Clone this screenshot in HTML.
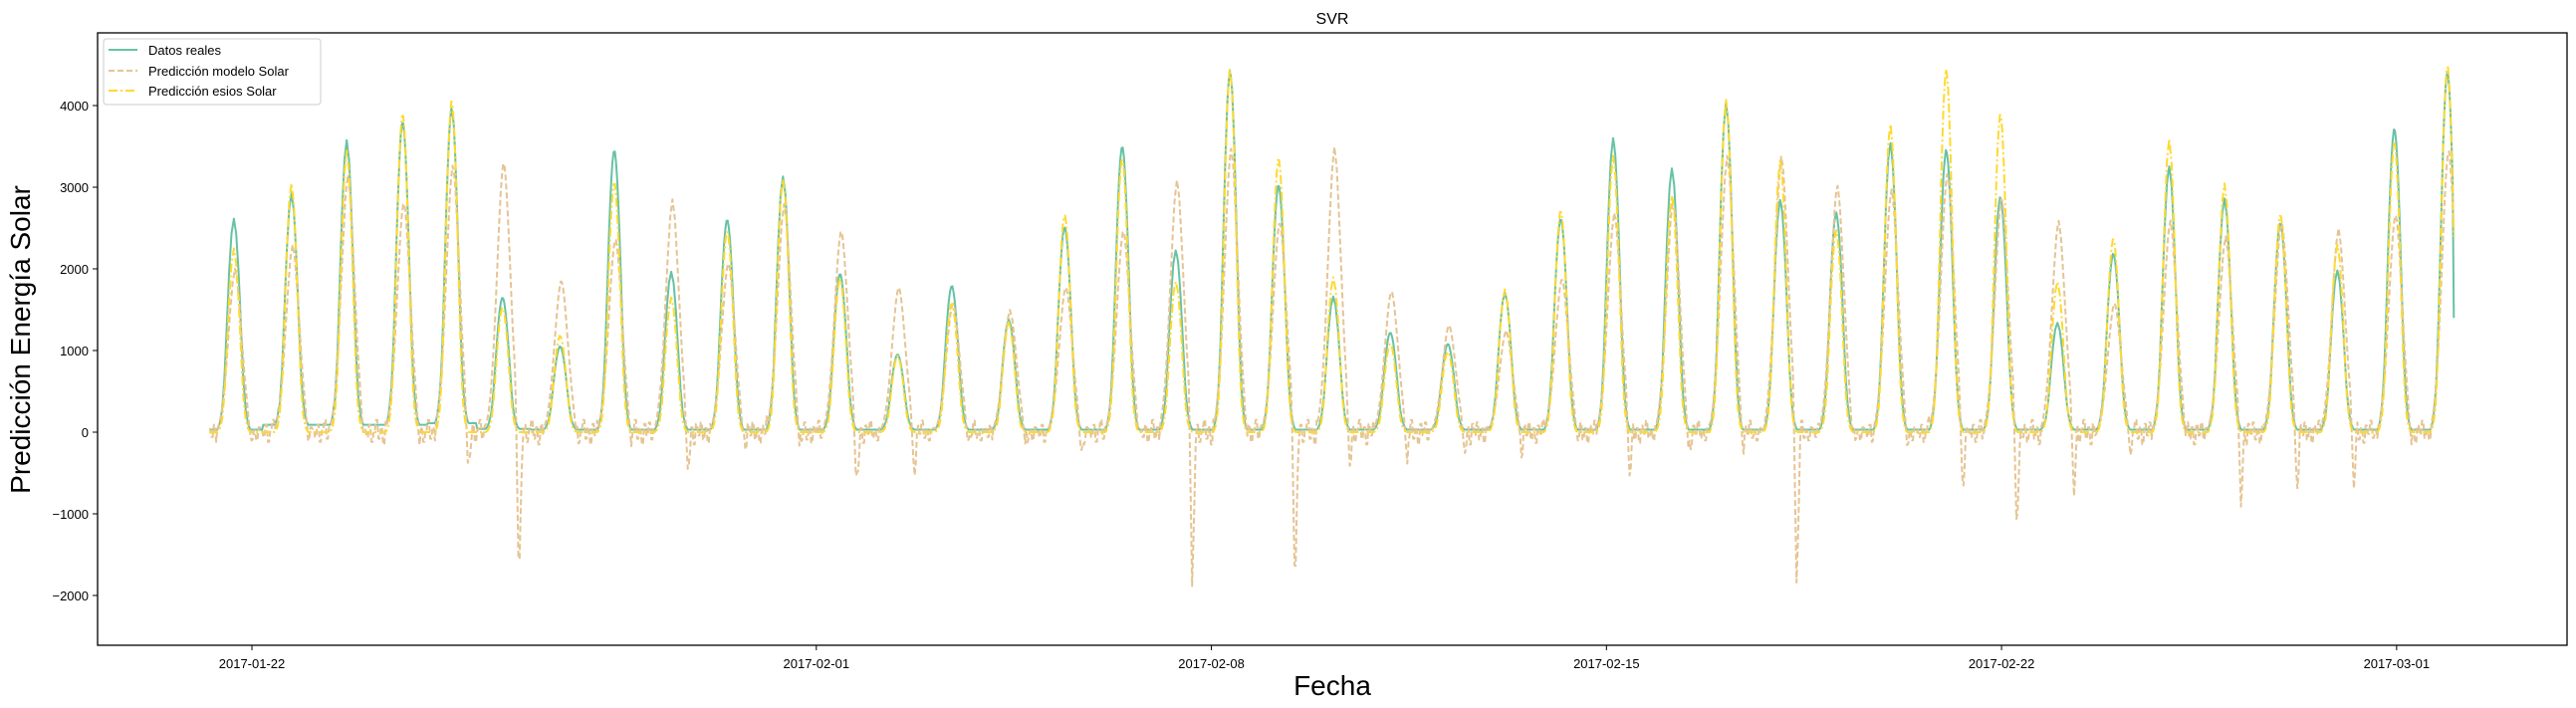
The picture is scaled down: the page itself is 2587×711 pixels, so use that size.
<!DOCTYPE html>
<html><head><meta charset="utf-8">
<style>
html,body{margin:0;padding:0;background:#fff;}
svg{display:block;font-family:"Liberation Sans","DejaVu Sans",sans-serif;}
</style></head>
<body>
<svg id="chart" width="2587" height="711" viewBox="0 0 2587 711" xmlns="http://www.w3.org/2000/svg">
<rect x="0" y="0" width="2587" height="711" fill="#fff"/>
<text x="1338" y="24" font-size="16" text-anchor="middle">SVR</text>
<g id="plot"></g>
<g id="axes"></g>
<text transform="translate(30,341) rotate(-90)" font-size="28" text-anchor="middle">Predicción Energía Solar</text>
<text x="1338" y="698" font-size="28" text-anchor="middle">Fecha</text>
<g>
<rect x="104" y="39" width="218" height="66" rx="3" fill="#fff" fill-opacity="0.8" stroke="#ccc" stroke-width="1"/>
<g><line x1="109" y1="50" x2="138" y2="50" stroke="#66c2a5" stroke-width="2"/><text x="149" y="55" font-size="13">Datos reales</text></g>
<g><line x1="109" y1="71" x2="138" y2="71" stroke="#e5c494" stroke-width="2" stroke-dasharray="6,3"/><text x="149" y="76" font-size="13">Predicción modelo Solar</text></g>
<g><line x1="109" y1="91" x2="138" y2="91" stroke="#ffd92f" stroke-width="2" stroke-dasharray="9,3,2,3"/><text x="149" y="96" font-size="13">Predicción esios Solar</text></g>
</g>
</svg>
<script>
// ---- data (peak day = days since 2017-01-22 00:00) ----
const peakDay = [-0.32,0.70,1.68,2.67,3.54,4.44,5.46,6.42,7.43,8.42,9.41,10.42,11.44,12.40,13.41,14.40,15.42,16.37,17.33,18.19,19.16,20.17,21.19,22.20,23.19,24.12,25.16,26.12,27.08,28.07,29.03,30.02,30.98,31.99,32.98,33.97,34.95,35.94,36.95,37.96,38.90];
const realPeak = [2600,2880,3530,3800,3950,1650,1050,3480,1950,2620,3120,1950,950,1800,1370,2530,3530,2220,4450,3050,1650,1220,1080,1700,2630,3600,3220,4030,2850,2700,3550,3480,2900,1330,2200,3250,2850,2580,1970,3750,4450];
const modelPeak = [2000,2300,3150,2850,3300,3350,1880,2400,2850,2100,2800,2500,1800,1600,1500,1800,2500,3100,3500,2600,3500,1750,1330,1250,1900,2700,2850,3400,3400,3050,3000,3200,2900,2600,1600,2600,2400,2600,2500,2700,3500];
const esiosPeak = [2250,3050,3450,3950,4100,1550,1200,3100,1650,2500,3100,1900,950,1600,1350,2700,3400,1850,4480,3400,1900,1100,1000,1750,2750,3400,2900,4100,3350,2500,3800,4500,3950,1850,2400,3600,3050,2700,2300,3600,4550];
const realBase = [30,90,90,90,110,40,30,30,30,30,30,30,30,30,30,30,30,30,30,30,30,30,30,30,30,30,30,30,30,30,30,30,30,30,30,30,30,30,30,30,30];
const modelDip = [-170,-150,-220,-300,-700,-2150,-150,-220,-650,-250,-370,-900,-600,-300,-250,-400,-200,-2200,-200,-2200,-670,-430,-300,-250,-200,-760,-400,-400,-2250,-300,-300,-920,-1500,-930,-300,-250,-1010,-820,-830,-250,-100];
const nightNoise = [40,-60,90,-120,30,150,-80,60,-150,100,-40,120,-90,50,-130,80,-20,140,-70,20,-100,60];
const yTicks = [-2000,-1000,0,1000,2000,3000,4000];
const xTickLabels = ["2017-01-22","2017-02-01","2017-02-08","2017-02-15","2017-02-22","2017-03-01"];
const xTickDays = [0,10,17,24,31,38];
// profiles (hour offset from peak)
const profReal = [0,0.03,0.1,0.25,0.5,0.75,0.93,1,0.93,0.75,0.5,0.25,0.1,0.03,0];
const profEsios = [0,0.02,0.07,0.2,0.45,0.72,0.92,1,0.92,0.72,0.45,0.2,0.07,0.02,0];
const profModel = [0,0.04,0.1,0.2,0.35,0.55,0.75,0.92,1,0.92,0.75,0.55,0.35,0.2,0.1,0.04,0];

// ---- scales ----
const X0=98,X1=2578,Y0=33,Y1=648;
const xScale = d => 253 + d*56.68;
const yScale = v => 434 - v*0.082;
const svgNS="http://www.w3.org/2000/svg";
const plot=document.getElementById('plot'), axes=document.getElementById('axes');

function prof(arr,off){
  const c=(arr.length-1)/2, p=off+c;
  if(p<=0||p>=arr.length-1) return 0;
  const i=Math.floor(p), f=p-i;
  return arr[i]*(1-f)+arr[i+1]*f;
}
function nearest(tH){
  let best=0,bd=1e9;
  for(let i=0;i<peakDay.length;i++){const d=Math.abs(tH-peakDay[i]*24);if(d<bd){bd=d;best=i;}}
  return best;
}
const tStart=peakDay[0]*24-10.5, tEnd=peakDay[peakDay.length-1]*24+3;
const ptsR=[],ptsM=[],ptsE=[];
let k=0;
for(let t=tStart;t<=tEnd+0.001;t+=0.5){
  const i=nearest(t), off=t-peakDay[i]*24;
  let r=realPeak[i]*prof(profReal,off)+(Math.abs(off)>5?realBase[i]:realBase[i]*0.5);
  let e=esiosPeak[i]*prof(profEsios,off);
  let m=modelPeak[i]*prof(profModel,off-0.5);
  if(Math.abs(off)>7) m+=nightNoise[Math.floor(k/2)%nightNoise.length];
  const dOff=off-7;
  if(Math.abs(dOff)<1.5) m+=modelDip[i]*Math.max(0,1-Math.abs(dOff)/1.5);
  k++;
  const x=xScale(t/24);
  ptsR.push([x,yScale(r)]);ptsM.push([x,yScale(m)]);ptsE.push([x,yScale(e)]);
}
ptsR[ptsR.length-1][1]=yScale(1400);
function addLine(pts,color,dash,name){
  const p=document.createElementNS(svgNS,'path');
  p.setAttribute('d','M'+pts.map(q=>q[0].toFixed(1)+','+q[1].toFixed(1)).join('L'));
  p.setAttribute('fill','none');p.setAttribute('stroke',color);p.setAttribute('stroke-width','2');
  if(dash)p.setAttribute('stroke-dasharray',dash);
  p.setAttribute('stroke-linejoin','round');
  
  
  plot.appendChild(p);
}
addLine(ptsR,'#66c2a5',null,'series-datos-reales');
addLine(ptsM,'#e5c494','6,3','series-prediccion-modelo');
addLine(ptsE,'#ffd92f','9,3,2,3','series-prediccion-esios');

const fr=document.createElementNS(svgNS,'rect');
fr.setAttribute('x',X0);fr.setAttribute('y',Y0);fr.setAttribute('width',X1-X0);fr.setAttribute('height',Y1-Y0);
fr.setAttribute('fill','none');fr.setAttribute('stroke','#000');fr.setAttribute('stroke-width','1.3');


axes.appendChild(fr);
yTicks.forEach(v=>{
  const y=yScale(v);
  const l=document.createElementNS(svgNS,'line');
  l.setAttribute('x1',X0-5);l.setAttribute('x2',X0);l.setAttribute('y1',y);l.setAttribute('y2',y);l.setAttribute('stroke','#000');
  
  
  axes.appendChild(l);
  const t=document.createElementNS(svgNS,'text');
  t.setAttribute('x',X0-9);t.setAttribute('y',y+5);t.setAttribute('font-size','13');t.setAttribute('text-anchor','end');
  t.textContent=(v<0?'\u2212'+Math.abs(v):String(v));
  
  
  axes.appendChild(t);
});
xTickDays.forEach((d,i)=>{
  const x=xScale(d);
  const l=document.createElementNS(svgNS,'line');
  l.setAttribute('x1',x);l.setAttribute('x2',x);l.setAttribute('y1',Y1);l.setAttribute('y2',Y1+5);l.setAttribute('stroke','#000');
  
  
  axes.appendChild(l);
  const t=document.createElementNS(svgNS,'text');
  t.setAttribute('x',x);t.setAttribute('y',Y1+23);t.setAttribute('font-size','13');t.setAttribute('text-anchor','middle');
  t.textContent=xTickLabels[i];
  
  
  axes.appendChild(t);
});
</script>
</body></html>
